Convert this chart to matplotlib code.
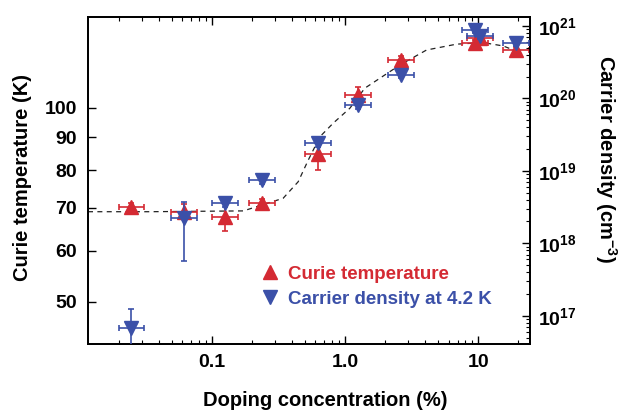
import matplotlib
matplotlib.use("Agg")
import matplotlib.pyplot as plt
import numpy as np
from matplotlib.ticker import FixedLocator, FixedFormatter, NullFormatter, NullLocator
from matplotlib.lines import Line2D

plt.rcParams['font.family'] = ['Liberation Sans', 'DejaVu Sans']
plt.rcParams['font.weight'] = 'bold'
plt.rcParams['mathtext.fontset'] = 'custom'
plt.rcParams['mathtext.rm'] = 'Liberation Sans:bold'
plt.rcParams['mathtext.bf'] = 'Liberation Sans:bold'
plt.rcParams['mathtext.it'] = 'Liberation Sans:bold'

# Curie temperature (left axis)
tc_x = [0.025, 0.062, 0.126, 0.24, 0.63, 1.26, 2.63, 9.5, 10.3, 19.3]
tc_y = [70.2, 69.0, 67.8, 71.1, 84.8, 104.8, 118.7, 126.2, 128.4, 123.0]
tc_err_lo = [1.0, 1.0, 3.4, 1.0, 4.7, 3.0, 1.5, 1.5, 1.5, 1.5]
tc_err_hi = [1.0, 2.0, 3.1, 1.0, 4.4, 3.0, 1.5, 1.5, 1.5, 1.5]

# Carrier density at 4.2 K (right axis), log10 values
cd_x = [0.025, 0.062, 0.126, 0.24, 0.63, 1.26, 2.63, 9.5, 10.3, 19.3]
cd_log = [16.83, 18.35, 18.56, 18.87, 19.38, 19.91, 20.32, 20.94, 20.86, 20.77]
cd_log_lo = [16.4, 17.76, 18.50, 18.82, 19.33, 19.86, 20.28, 20.90, 20.82, 20.73]
cd_log_hi = [17.09, 18.57, 18.62, 18.92, 19.43, 19.96, 20.36, 20.98, 20.90, 20.81]

# Dashed guide curve
fit_x = [0.0118, 0.034, 0.173, 0.344, 0.446, 0.531, 0.649, 0.817, 1.09, 1.41,
         2.59, 4.10, 6.89, 10.9, 15.4, 21.2]
fit_y = [69.0, 69.0, 69.2, 72.4, 76.8, 83.0, 90.2, 94.7, 99.9, 107.3,
         116.6, 123.0, 125.6, 126.3, 124.8, 121.6]

xerr_frac = 0.25

left_ticks = [50, 60, 70, 80, 90, 100]
x_ticks = [0.1, 1.0, 10]
x_ticklabels = ['0.1', '1.0', '10']
right_exps = [17, 18, 19, 20, 21]

RED = '#d42a33'
BLUE = '#3b50a8'

fig = plt.figure(figsize=(6.23, 4.12), dpi=100)
ax = fig.add_axes([88/623, (412-344)/412, (530-88)/623, (344-17)/412])
ax2 = ax.twinx()

tc_x_a = np.array(tc_x)
xerr = [tc_x_a - tc_x_a/(1+xerr_frac), tc_x_a*xerr_frac]

ax.plot(fit_x, fit_y, ls=(0, (4, 3.5)), color='#222222', lw=0.9, zorder=1)

ax.errorbar(tc_x, tc_y, yerr=[tc_err_lo, tc_err_hi], xerr=xerr, fmt='^', color=RED,
            ms=10, mec=RED, mfc=RED, elinewidth=1.2, capsize=2.5, capthick=1.2, zorder=3)

cd_y = 10**np.array(cd_log)
cd_lo = cd_y - 10**np.array(cd_log_lo)
cd_hi = 10**np.array(cd_log_hi) - cd_y
cd_x_a = np.array(cd_x)
xerr2 = [cd_x_a - cd_x_a/(1+xerr_frac), cd_x_a*xerr_frac]
ax2.errorbar(cd_x, cd_y, yerr=[cd_lo, cd_hi], xerr=xerr2, fmt='v', color=BLUE,
             ms=10, mec=BLUE, mfc=BLUE, elinewidth=1.2, capsize=2.5, capthick=1.2, zorder=3)

ax.set_xscale('log')
ax.set_yscale('log')
ax2.set_yscale('log')
ax.set_xlim(0.0118, 24.5)
ax.set_ylim(43.0, 138.4)
ax2.set_ylim(10**16.61, 10**21.124)

ax.xaxis.set_major_locator(FixedLocator(x_ticks))
ax.xaxis.set_major_formatter(FixedFormatter(x_ticklabels))
minors = [m*10.0**e for e in (-2, -1, 0, 1) for m in range(2, 10)]
ax.xaxis.set_minor_locator(FixedLocator(minors))
ax.xaxis.set_minor_formatter(NullFormatter())

ax.yaxis.set_major_locator(FixedLocator(left_ticks))
ax.yaxis.set_major_formatter(FixedFormatter([str(t) for t in left_ticks]))
ax.yaxis.set_minor_locator(NullLocator())

ax2.yaxis.set_major_locator(FixedLocator([10.0**e for e in right_exps]))
ax2.yaxis.set_major_formatter(FixedFormatter([r'$\mathbf{10^{%d}}$' % e for e in right_exps]))
rminors = [m*10.0**e for e in range(16, 22) for m in range(2, 10)]
ax2.yaxis.set_minor_locator(FixedLocator(rminors))
ax2.yaxis.set_minor_formatter(NullFormatter())

ax.tick_params(axis='x', which='both', direction='in', top=True, labelsize=14, pad=7)
ax.tick_params(axis='x', which='major', length=6, width=1)
ax.tick_params(axis='x', which='minor', length=3, width=0.8)
ax.tick_params(axis='y', which='both', direction='in', right=False, labelsize=14,
               length=6, width=1, pad=8)
ax2.tick_params(axis='y', which='major', direction='in', length=6, width=1, labelsize=14, pad=6)
ax2.tick_params(axis='y', which='minor', direction='in', length=3, width=0.8)

for sp in ax.spines.values():
    sp.set_linewidth(1.3)
for sp in ax2.spines.values():
    sp.set_linewidth(1.3)

ax.set_xlabel('Doping concentration (%)', fontsize=14.5, fontweight='bold')
ax.xaxis.set_label_coords(0.536, -0.145)
ax.set_ylabel('Curie temperature (K)', fontsize=14.5, fontweight='bold')
ax.yaxis.set_label_coords(-0.127, 0.51)
ax2.set_ylabel(r'Carrier density (cm$^{\mathbf{-3}}$)', fontsize=14.5, fontweight='bold',
               rotation=270)
ax2.yaxis.label.set_va('center')
ax2.yaxis.label.set_rotation_mode('anchor')
ax2.yaxis.set_label_coords(1.172, 0.565)

# legend
h1 = Line2D([], [], marker='^', ls='none', color=RED, ms=10)
h2 = Line2D([], [], marker='v', ls='none', color=BLUE, ms=10)
leg = ax.legend([h1, h2], ['Curie temperature', 'Carrier density at 4.2 K'],
                loc='upper left', bbox_to_anchor=(0.38, 0.24), frameon=False,
                prop={'weight': 'bold', 'size': 13.5}, handletextpad=0.2,
                labelspacing=0.42, borderaxespad=0, borderpad=0, handlelength=1.5)
for t, c in zip(leg.get_texts(), [RED, BLUE]):
    t.set_color(c)

fig.savefig('out.png', dpi=100)
